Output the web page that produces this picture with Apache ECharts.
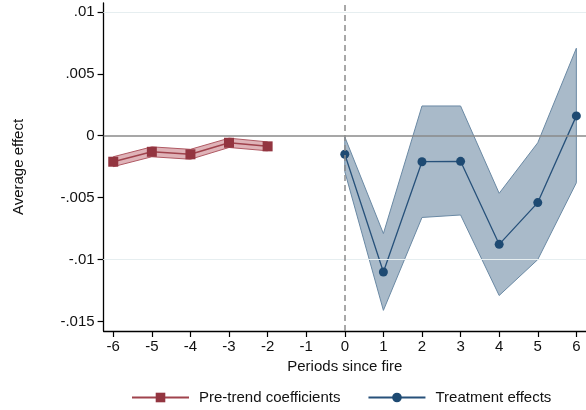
<!DOCTYPE html>
<html>
<head>
<meta charset="utf-8">
<script src="https://cdn.jsdelivr.net/npm/echarts@6/dist/echarts.min.js"></script>
<style>
html,body{margin:0;padding:0;background:#fff;}
#chart{width:586px;height:410px;}
</style>
</head>
<body>
<div id="chart"></div>
<script>
// ---- data ----
const periodsPre = [-6, -5, -4, -3, -2];
const preCoef = [-0.0021, -0.0013, -0.0015, -0.00057, -0.00086];
const preLo = [-0.0025, -0.0017, -0.0019, -0.00095, -0.00122];
const preHi = [-0.0017, -0.0009, -0.0011, -0.00020, -0.00050];

const periodsPost = [0, 1, 2, 3, 4, 5, 6];
const treat = [-0.0015, -0.0110, -0.0021, -0.00207, -0.00877, -0.0054, 0.0016];
const treatLo = [-0.0029, -0.0141, -0.0066, -0.0064, -0.0129, -0.0100, -0.0038];
const treatHi = [-0.0001, -0.0079, 0.0024, 0.0024, -0.00465, -0.00057, 0.00706];

const xTicks = [-6, -5, -4, -3, -2, -1, 0, 1, 2, 3, 4, 5, 6];
const yTicks = [-0.015, -0.01, -0.005, 0, 0.005, 0.01];
const yTickLabels = ['-.015', '-.01', '-.005', '0', '.005', '.01'];
const seriesNames = ['Pre-trend coefficients', 'Treatment effects'];

// ---- chart ----
const FONT = '"Liberation Sans", Arial, sans-serif';
const chart = echarts.init(document.getElementById('chart'), null, {renderer: 'canvas'});

function bandSeries(xs, lo, hi, fill, stroke) {
  return {
    type: 'custom',
    silent: true,
    z: 1,
    data: xs.map((x, i) => [x, lo[i], hi[i]]),
    encode: {x: 0, y: [1, 2]},
    renderItem: function (params, api) {
      if (params.dataIndex !== 0) return null;
      const pts = [];
      for (let i = 0; i < xs.length; i++) pts.push(api.coord([xs[i], hi[i]]));
      for (let i = xs.length - 1; i >= 0; i--) pts.push(api.coord([xs[i], lo[i]]));
      return {
        type: 'polygon',
        shape: {points: pts},
        style: {fill: fill, stroke: stroke, lineWidth: 1}
      };
    }
  };
}

const option = {
  animation: false,
  backgroundColor: '#ffffff',
  textStyle: {fontFamily: FONT},
  grid: {left: 103.6, top: 3, width: 483.8, height: 328, containLabel: false},
  legend: {
    data: seriesNames,
    left: 131,
    top: 390,
    padding: 0,
    itemWidth: 57,
    itemHeight: 12,
    itemGap: 27,
    textStyle: {fontFamily: FONT, fontSize: 15, color: '#111', padding: [0, 0, 0, 5]}
  },
  xAxis: {
    type: 'value',
    min: -6.25,
    max: 6.25,
    name: 'Periods since fire',
    nameLocation: 'middle',
    nameGap: 24,
    nameTextStyle: {fontFamily: FONT, fontSize: 15, color: '#111'},
    axisLine: {show: true, onZero: false, lineStyle: {color: '#000', width: 1.3}},
    axisTick: {show: true, customValues: xTicks, length: 6, lineStyle: {color: '#000', width: 1.2}},
    axisLabel: {customValues: xTicks, margin: 8, fontFamily: FONT, fontSize: 15, color: '#111',
      formatter: v => String(v)},
    splitLine: {show: false}
  },
  yAxis: {
    type: 'value',
    min: -0.015765,
    max: 0.010712,
    name: 'Average effect',
    nameLocation: 'middle',
    nameGap: 77,
    nameTextStyle: {fontFamily: FONT, fontSize: 15, color: '#111'},
    axisLine: {show: true, onZero: false, lineStyle: {color: '#000', width: 1.3}},
    axisTick: {show: true, customValues: yTicks, length: 6, lineStyle: {color: '#000', width: 1.2}},
    axisLabel: {customValues: yTicks, margin: 9, fontFamily: FONT, fontSize: 15, color: '#111',
      formatter: v => {
        const i = yTicks.findIndex(t => Math.abs(t - v) < 1e-9);
        return i >= 0 ? yTickLabels[i] : '';
      }},
    splitLine: {show: false}
  },
  series: [
    // grid lines + reference lines
    {
      type: 'line',
      data: [],
      silent: true,
      z: 0,
      markLine: {
        silent: true,
        symbol: 'none',
        label: {show: false},
        lineStyle: {color: '#e6eef0', width: 1.2, type: 'solid'},
        data: yTicks.filter(t => t !== 0).map(t => ({yAxis: t}))
      }
    },
    {
      type: 'line',
      data: [],
      silent: true,
      z: 0,
      markLine: {
        silent: true,
        symbol: 'none',
        label: {show: false},
        data: [
          {yAxis: 0, lineStyle: {color: '#8a8a8a', width: 1.5, type: 'solid'}},
          {xAxis: 0, lineStyle: {color: '#8c8c8c', width: 1.5, type: [6, 4]}}
        ]
      }
    },
    bandSeries(periodsPre, preLo, preHi, 'rgba(165,45,58,0.36)', '#b05a64'),
    bandSeries(periodsPost, treatLo, treatHi, 'rgba(30,74,114,0.38)', '#6a89a4'),
    {
      name: seriesNames[0],
      type: 'line',
      z: 3,
      data: periodsPre.map((x, i) => [x, preCoef[i]]),
      symbol: 'rect',
      symbolSize: 10,
      showAllSymbol: true,
      lineStyle: {color: '#a0434d', width: 1.5},
      itemStyle: {color: '#933540', borderWidth: 0}
    },
    {
      name: seriesNames[1],
      type: 'line',
      z: 3,
      data: periodsPost.map((x, i) => [x, treat[i]]),
      symbol: 'circle',
      symbolSize: 9,
      showAllSymbol: true,
      lineStyle: {color: '#27517a', width: 1.3},
      itemStyle: {color: '#1e4a72', borderWidth: 0}
    }
  ]
};
chart.setOption(option);
</script>
</body>
</html>
